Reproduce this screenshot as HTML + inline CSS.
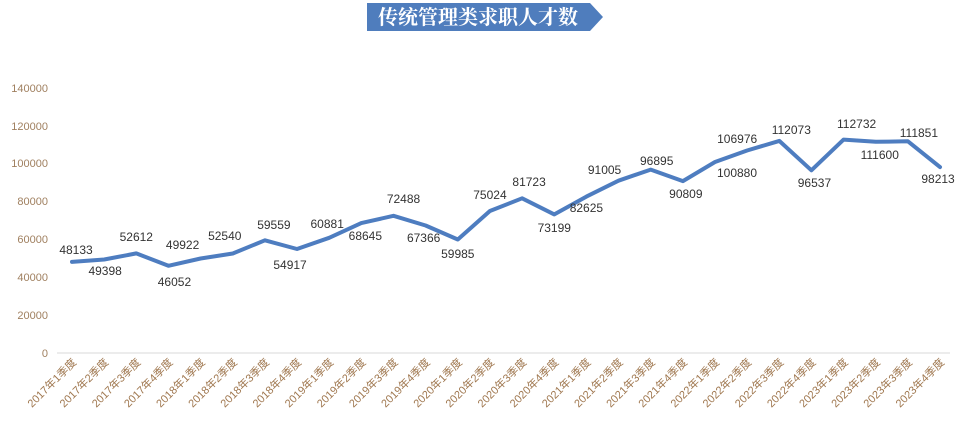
<!DOCTYPE html>
<html><head><meta charset="utf-8"><style>
html,body{margin:0;padding:0;background:#fff;}
svg{display:block;}
</style></head><body>
<svg width="966" height="429" xmlns="http://www.w3.org/2000/svg" font-family="Liberation Sans, Noto Sans CJK SC, sans-serif">
<polygon points="367,3 590,3 603,17 590,31 367,31" fill="#4f7dbd"/>
<text x="478" y="24" text-anchor="middle" fill="#fff" font-size="20" font-weight="bold" font-family="Noto Serif CJK SC, serif">传统管理类求职人才数</text>
<line x1="57" y1="353" x2="950" y2="353" stroke="#d9d9d9" stroke-width="1"/>
<g font-size="11" fill="#a08060" text-anchor="end">
<text x="48" y="357">0</text><text x="48" y="319">20000</text><text x="48" y="281">40000</text><text x="48" y="243">60000</text><text x="48" y="205">80000</text><text x="48" y="167">100000</text><text x="48" y="130">120000</text><text x="48" y="92">140000</text>
</g>
<g id="chart"></g>
</svg>
<script>
const v=[48133,49398,52612,46052,49922,52540,59559,54917,60881,68645,72488,67366,59985,75024,81723,73199,82625,91005,96895,90809,100880,106976,112073,96537,112732,111600,111851,98213];
const ly=[250,271,237,282,245,236,225,265,224,236,199,238,254,195,182,228,208,170,161,194,173,139,130,183,124,155,133,179];
const dx=[4,1,0,6,-18,-8,9,-7,-2,4,10,-2,0,0,7,0,0,-14,6,3,22,-10,12,3,13,4,11,-2];
const g=document.getElementById('chart');let s='';let pts=[];
for(let i=0;i<28;i++){const x=72+i*32.15,y=353-v[i]*0.0018929;pts.push(x.toFixed(1)+','+y.toFixed(1));
s+=`<text x="${x+dx[i]}" y="${ly[i]+4}" text-anchor="middle" font-size="12" fill="#333">${v[i]}</text>`;
const yr=2017+Math.floor(i/4),q=i%4+1;
s+=`<text transform="translate(${x+5},363) rotate(-45)" text-anchor="end" font-size="11" fill="#a07850">${yr}年${q}季度</text>`;}
s='<polyline points="'+pts.join(' ')+'" fill="none" stroke="#4e7dc0" stroke-width="4" stroke-linejoin="round" stroke-linecap="round"/>'+s;
g.innerHTML=s;
</script>
</body></html>
